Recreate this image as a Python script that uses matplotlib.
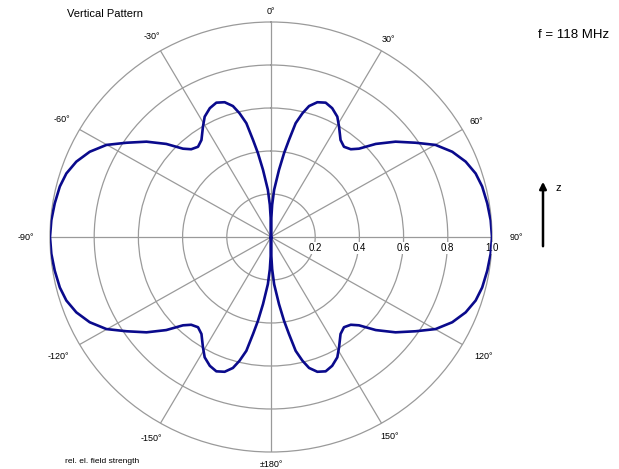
import numpy as np
import matplotlib.pyplot as plt
from matplotlib.patches import FancyArrowPatch

plt.rcParams['font.family'] = ['Liberation Sans', 'DejaVu Sans']

# one quadrant of the vertical pattern (deg from zenith, rel. field strength)
quad_deg = [0, 1, 2, 3.7, 6.6, 8.6, 10.2, 11.9, 13.9, 15.8, 18.5, 21.6, 24.8,
            28.2, 31, 34.9, 38.2, 41.5, 44.1, 47.6, 51.8, 56.2, 60.1, 64.2,
            68.3, 72.3, 76.2, 80.9, 85.5, 90]
quad_r = [0.0, 0.09, 0.15, 0.22, 0.314, 0.394, 0.458, 0.541, 0.593, 0.633,
          0.661, 0.672, 0.660, 0.635, 0.598, 0.550, 0.534, 0.545, 0.572,
          0.642, 0.717, 0.788, 0.859, 0.911, 0.948, 0.972, 0.984, 0.991,
          0.997, 1.0]

ring_vals = [0.2, 0.4, 0.6, 0.8, 1.0]
ring_labels = ['0.2', '0.4', '0.6', '0.8', '1.0']
angle_ticks = [0, 30, 60, 90, 120, 150, 180, 210, 240, 270, 300, 330]
angle_labels = ['0°', '30°', '60°', '90°', '120°', '150°', '±180°',
                '-150°', '-120°', '-90°', '-60°', '-30°']
label_r = [1.05, 1.06, 1.075, 1.11, 1.11, 1.07, 1.06, 1.08, 1.11, 1.11, 1.09, 1.075]

# pattern is symmetric about the antenna axis and the horizontal plane
a = np.array(quad_deg)
r = np.array(quad_r)
half_a = np.concatenate([a, 180 - a[::-1]])
half_r = np.concatenate([r, r[::-1]])
full_a = np.concatenate([half_a, 360 - half_a[::-1]])
full_r = np.concatenate([half_r, half_r[::-1]])

fig = plt.figure(figsize=(6.19, 4.69), dpi=100)
ax = fig.add_axes([50/619, 17/469, 442/619, 430/469], projection='polar')
ax.set_aspect('auto')
ax.set_theta_zero_location('N')
ax.set_theta_direction(-1)
ax.set_ylim(0, 1)

ax.set_thetagrids(angle_ticks, labels=[])
ax.set_rgrids(ring_vals[:-1], labels=[])
ax.grid(True, color='#9a9a9a', lw=0.9)
ax.spines['polar'].set_color('#9a9a9a')
ax.spines['polar'].set_linewidth(0.9)

ax.plot(np.deg2rad(full_a), full_r, color='#0a0a8c', lw=1.9, zorder=5)

for ang, lab, rl in zip(angle_ticks, angle_labels, label_r):
    ax.text(np.deg2rad(ang), rl, lab, ha='center', va='center', fontsize=6.5)

for rv, lab in zip(ring_vals, ring_labels):
    ax.annotate(lab, xy=(np.pi/2, rv), xytext=(0, -8), textcoords='offset points',
                ha='center', va='center', fontsize=7, zorder=3,
                bbox=dict(facecolor='white', edgecolor='none', pad=0.6))

fig.text(67/619, 1 - 14/469, 'Vertical Pattern', fontsize=8, va='center')
fig.text(538/619, 1 - 35/469, 'f = 118 MHz', fontsize=9.5, va='center')
fig.text(65/619, 1 - 461/469, 'rel. el. field strength', fontsize=6, va='center')

arrow = FancyArrowPatch((543/619, 1 - 249/469), (543/619, 1 - 179/469),
                        transform=fig.transFigure, arrowstyle='-|>',
                        mutation_scale=10, lw=1.8, color='black')
fig.add_artist(arrow)
fig.text(555/619, 1 - 188/469, 'z', fontsize=8, va='center')

fig.savefig('out.png', dpi=100)
